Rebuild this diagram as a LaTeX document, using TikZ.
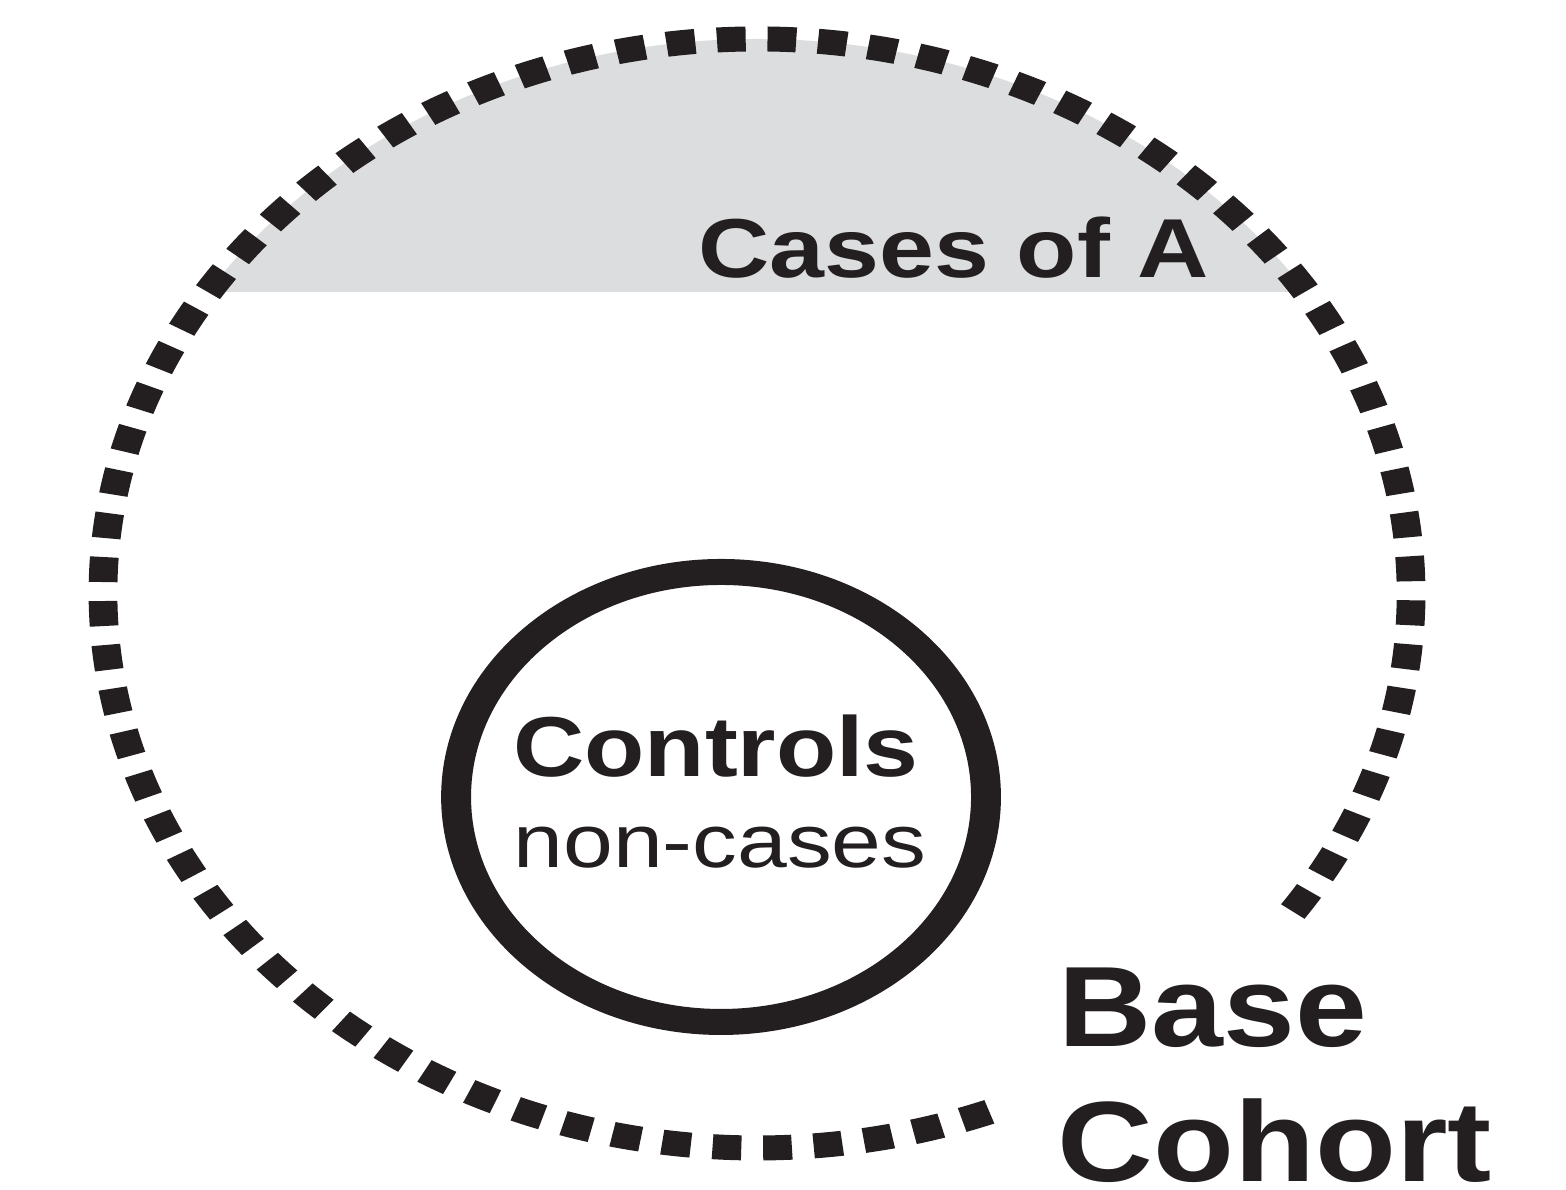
\documentclass[tikz,border=0pt]{standalone}
\usepackage{fontspec}
\setmainfont{Liberation Sans}
\usepackage{xcolor}
\definecolor{inkblack}{RGB}{35,31,32}
\definecolor{casegray}{RGB}{220,221,223}
\usepackage{tikz}

\begin{document}
\begin{tikzpicture}[
  cohortline/.style={inkblack, line width=2.5mm, dash pattern=on 2.5mm off 1.9mm},
  controlring/.style={draw=inkblack, line width=2.6mm},
  txt/.style={inkblack, inner sep=0pt, anchor=base}
]
\useasboundingbox (0,0) rectangle (15.66,11.90);

% the shapes are drawn as circles and stretched sideways
\begin{scope}[transform canvas={xscale=1.15}]
  \coordinate (cohort) at (6.583,5.965);
  \coordinate (ctrl) at (6.270,3.93);

  % shaded top segment: cases of A
  \begin{scope}
    \clip (0,8.98) rectangle (13.62,11.90);
    \fill[casegray] (cohort) ellipse [x radius=5.687, y radius=5.545];
  \end{scope}

  % dotted cohort boundary, open at the lower right
  \draw[cohortline] (cohort) ++(-35:5.687 and 5.545)
    arc[start angle=-35, end angle=291, x radius=5.687, y radius=5.545];

  % controls
  \draw[controlring] (ctrl) ellipse [x radius=2.304, y radius=2.25];
\end{scope}

% labels
\node[txt, anchor=base west, font=\fontsize{23.8}{28}\selectfont\bfseries\addfontfeatures{FakeStretch=1.18}] (cases) at (6.98,9.12) {Cases of A};
\node[txt, font=\fontsize{24.2}{29}\selectfont\bfseries\addfontfeatures{FakeStretch=1.16}] (controls) at (7.16,4.13) {Controls};
\node[txt, font=\fontsize{21.4}{26}\selectfont\addfontfeatures{FakeStretch=1.19}] (noncases) at (7.20,3.22) {non-cases};
\node[txt, anchor=base west, font=\fontsize{32.5}{39}\selectfont\bfseries\addfontfeatures{FakeStretch=1.13}] (base) at (10.58,1.43) {Base};
\node[txt, anchor=base west, font=\fontsize{32.5}{39}\selectfont\bfseries\addfontfeatures{FakeStretch=1.16}] (cohortlbl) at (10.57,0.08) {Cohort};

\end{tikzpicture}
\end{document}
